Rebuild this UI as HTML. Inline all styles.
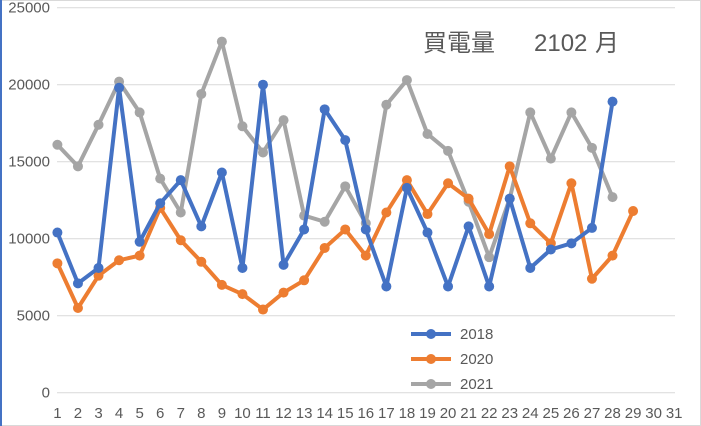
<!DOCTYPE html>
<html><head><meta charset="utf-8"><style>
html,body{margin:0;padding:0;background:#fff;}
svg{display:block;font-family:"Liberation Sans","Noto Sans CJK JP",sans-serif;}
</style></head><body>
<svg id="s" width="701" height="426" xmlns="http://www.w3.org/2000/svg">
<rect x="0.5" y="0.5" width="700" height="425" fill="#fff" stroke="#d9d9d9"/>
<line x1="1" y1="0" x2="1" y2="426" stroke="#4472c4" stroke-width="2"/>
<g id="grid" stroke="#d9d9d9" stroke-width="1"></g>
<g id="ylab" fill="#595959" font-size="15" text-anchor="end"></g>
<g id="xlab" fill="#595959" font-size="15" text-anchor="middle"></g>
<g id="series"></g>
<text x="423" y="51" font-size="24" fill="#595959" font-family="'Noto Sans CJK JP','Liberation Sans',sans-serif">買電量</text>
<text x="534" y="51" font-size="24" fill="#595959">2102</text>
<text x="595" y="51" font-size="24" fill="#595959" font-family="'Noto Sans CJK JP',sans-serif">月</text>
<g font-size="15" fill="#595959">
<line x1="411" y1="334" x2="451" y2="334" stroke="#4472c4" stroke-width="4"/><circle cx="431" cy="334" r="5" fill="#4472c4"/><text x="460" y="339">2018</text>
<line x1="411" y1="359" x2="451" y2="359" stroke="#ed7d31" stroke-width="4"/><circle cx="431" cy="359" r="5" fill="#ed7d31"/><text x="460" y="364">2020</text>
<line x1="411" y1="384" x2="451" y2="384" stroke="#a5a5a5" stroke-width="4"/><circle cx="431" cy="384" r="5" fill="#a5a5a5"/><text x="460" y="389">2021</text>
</g>
</svg>
<script>
var NS="http://www.w3.org/2000/svg";
function el(t,a,p){var e=document.createElementNS(NS,t);for(var k in a)e.setAttribute(k,a[k]);p.appendChild(e);return e;}
function Y(v){return 392.7-v*0.0154;}
function X(d){return 57.4+(d-1)*20.56;}
var g=document.getElementById('grid'),yl=document.getElementById('ylab'),xl=document.getElementById('xlab');
for(var v=0;v<=25000;v+=5000){el('line',{x1:57,x2:675,y1:Y(v),y2:Y(v)},g);var t=el('text',{x:50,y:Y(v)+5},yl);t.textContent=v;}
for(var d=1;d<=31;d++){var t=el('text',{x:X(d),y:418},xl);t.textContent=d;}
var data=[
["#a5a5a5",[16100,14700,17400,20200,18200,13900,11700,19400,22800,17300,15600,17700,11500,11100,13400,11000,18700,20300,16800,15700,12400,8800,12600,18200,15200,18200,15900,12700]],
["#ed7d31",[8400,5500,7600,8600,8900,12000,9900,8500,7000,6400,5400,6500,7300,9400,10600,8900,11700,13800,11600,13600,12600,10300,14700,11000,9700,13600,7400,8900,11800]],
["#4472c4",[10400,7100,8100,19800,9800,12300,13800,10800,14300,8100,20000,8300,10600,18400,16400,10600,6900,13300,10400,6900,10800,6900,12600,8100,9300,9700,10700,18900]]];
var s=document.getElementById('series');
data.forEach(function(sr){var pts=sr[1].map(function(v,i){return X(i+1)+','+Y(v);}).join(' ');
el('polyline',{points:pts,fill:'none',stroke:sr[0],'stroke-width':4,'stroke-linejoin':'round'},s);
sr[1].forEach(function(v,i){el('circle',{cx:X(i+1),cy:Y(v),r:5,fill:sr[0]},s);});});
</script>
</body></html>
